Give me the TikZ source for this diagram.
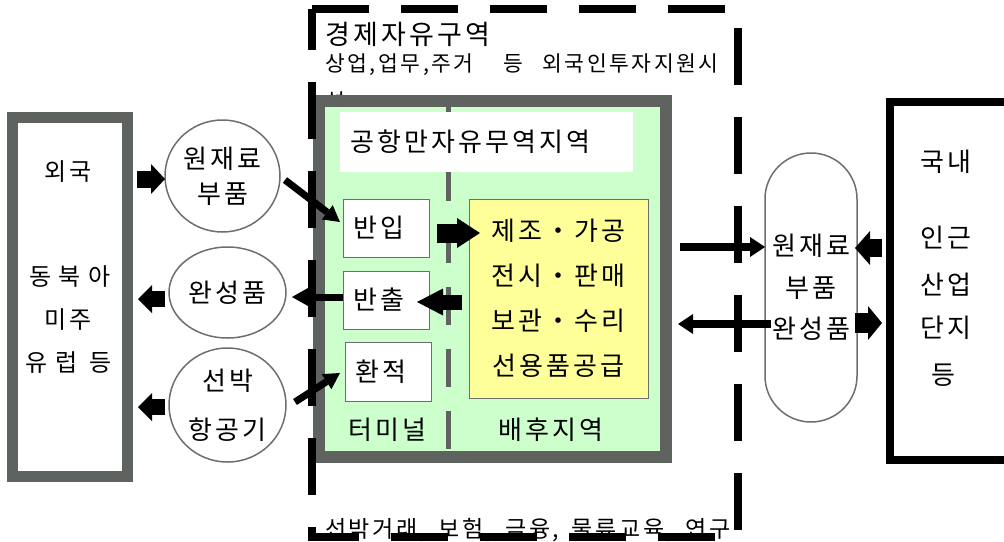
\documentclass[tikz,border=0pt]{standalone}
\usepackage{fontspec}
\setmainfont{Noto Sans CJK KR}[LetterSpace=12]
\usetikzlibrary{arrows.meta,calc,shapes.geometric}
\definecolor{frame}{RGB}{95,99,95}
\definecolor{lgreen}{RGB}{204,255,204}
\definecolor{lyellow}{RGB}{255,255,153}
\definecolor{thin}{RGB}{110,110,110}
\begin{document}
\begin{tikzpicture}[x=1pt,y=-1pt,font=\fontsize{26}{30}\selectfont,
  lbl/.style={inner sep=0pt,outer sep=0pt},
  frm/.style={draw=frame,inner sep=0pt,outer sep=0pt},
  wbox/.style={draw=thin,line width=1pt,fill=white,inner sep=0pt,inner xsep=10pt,outer sep=0pt,minimum height=58pt,text width=66pt,align=left},
  circ/.style={ellipse,draw=thin,line width=1.5pt,fill=white,inner sep=0pt,outer sep=0pt,align=center},
  blk/.style args={#1/#2/#3}{draw=black,line width=#1,-{Triangle[length=#2,width=#3,line width=0pt]}},
  arr/.style={draw=black,line width=8.5pt,-{Triangle[length=15pt,width=20pt,line width=0pt]}},
  marr/.style={draw=black,line width=7pt,-{Triangle[length=16pt,width=18pt,line width=0pt]}},
  zone/.style={draw=black,line width=8pt,dash pattern=on 57pt off 32pt},
  side/.style={lbl,font=\fontsize{24}{28}\selectfont},
  wide/.style={lbl,font=\fontsize{24}{28}\selectfont\addfontfeature{LetterSpace=30}}]
\useasboundingbox (0,0) rectangle (1004,541);
% zone texts
\node[lbl,anchor=west,font=\fontsize{27}{30}\selectfont] (title) at (325,34) {경제자유구역};
\node[lbl,anchor=west,font=\fontsize{21.5}{26}\selectfont] (sub) at (325,65) {상업,업무,주거\hspace{30pt}등\hspace{19pt}외국인투자지원시};
\node[lbl,anchor=west,font=\fontsize{21.5}{26}\selectfont] (sub2) at (325,101) {설};
\node[lbl,anchor=west,font=\fontsize{23}{26}\selectfont] (bottom) at (325,530) {선박거래,\hspace{4pt} 보험,\hspace{4pt} 금융,\hspace{4pt} 물류교육,\hspace{4pt} 연구};
% free trade zone box
\node[frm,line width=12pt,fill=lgreen,minimum width=347pt,minimum height=356pt] (ftz) at (492.5,279) {};
\draw[frame,line width=5pt,dash pattern=on 38pt off 24pt] (448,101) -- (448,451);
\node[lbl,fill=white,minimum width=293pt,minimum height=60pt,text width=273pt,inner xsep=10pt,align=left] (airport) at (486.5,142) {공항만자유무역지역};
\node[wbox] (in1) at (386,228) {반입};
\node[wbox] (out1) at (386,300) {반출};
\node[wbox,minimum height=59pt] (tr) at (388,371.5) {환적};
\node[lbl] (term) at (387,430) {터미널};
\node[lbl] (hint) at (551,430) {배후지역};
\node[draw=thin,line width=1pt,fill=lyellow,minimum width=179pt,minimum height=199pt,inner sep=0pt,outer sep=0pt,align=center,font=\fontsize{26}{45}\selectfont] (yel) at (558.5,298.5) {제조・가공\\전시・판매\\보관・수리\\선용품공급};
% left box
\node[frm,line width=11pt,minimum width=115pt,minimum height=359pt] (lbox) at (70,297) {};
\node[side] (l1) at (68,172) {외국};
\node[wide] (l2) at (70,277) {동북아};
\node[side] (l3) at (68,320) {미주};
\node[wide] (l4) at (69,363) {유럽 등};
% right box
\node[draw=black,line width=8pt,minimum width=122pt,minimum height=358pt,inner sep=0pt,outer sep=0pt] (rbox) at (951,281) {};
\node[lbl] (r1) at (946,162) {국내};
\node[lbl] (r2) at (946,238) {인근};
\node[lbl] (r3) at (946,285) {산업};
\node[lbl] (r4) at (946,328) {단지};
\node[lbl] (r5) at (943,375) {등};
% pill
\node[draw=thin,line width=1.5pt,fill=white,rounded corners=46pt,minimum width=92pt,minimum height=269pt,inner sep=0pt,outer sep=0pt,align=center,font=\fontsize{26}{41.5}\selectfont] (pill) at (811,287.5) {원재료\\부품\\완성품};
% circles
\node[circ,minimum width=115pt,minimum height=112pt,font=\fontsize{26}{35}\selectfont] (c1) at (222.5,176) {원재료\\부품};
\node[circ,minimum width=117pt,minimum height=91pt] (c2) at (227.5,292.5) {완성품};
\node[circ,minimum width=117pt,minimum height=114pt,font=\fontsize{26}{49}\selectfont] (c3) at (227.5,405) {선박\\항공기};
% block arrows
\draw[blk=17pt/14pt/30pt,shorten <=9.5pt] ($(lbox.east|-c1.west)+(0,3)$) -- ($(c1.west)+(0,3)$);
\draw[blk=16pt/14pt/28pt,shorten <=4pt,shorten >=10.5pt] ($(c2.west)+(0,6.5)$) -- ($(lbox.east|-c2.west)+(0,6.5)$);
\draw[blk=16pt/14pt/28pt,shorten <=4pt,shorten >=10.5pt] ($(c3.west)+(0,2)$) -- ($(lbox.east|-c3.west)+(0,2)$);
\draw[blk=19pt/23pt/30pt,shorten <=8pt,shorten >=-11pt] ($(in1.east)+(0,5)$) -- ($(yel.west|-in1.east)+(0,5)$);
\draw[blk=15pt/26pt/27pt,shorten <=7pt,shorten >=-12pt] ($(yel.west|-out1.east)+(0,2)$) -- ($(out1.east)+(0,2)$);
\draw[blk=18pt/15pt/34pt,shorten <=8pt,shorten >=-2pt] ($(rbox.west|-pill.east)+(0,-39.5)$) -- ($(pill.east)+(0,-39.5)$);
\draw[blk=20pt/14pt/34pt,shorten <=-2pt,shorten >=8pt] ($(pill.east)+(0,35.5)$) -- ($(rbox.west|-pill.east)+(0,35.5)$);
% line arrows
\draw[arr,shorten <=14pt] ($(ftz.east|-pill.west)+(0,-40.5)$) -- ($(pill.west)+(0,-40.5)$);
\draw[arr,shorten <=-6pt,shorten >=12pt] ($(pill.west)+(0,36.5)$) -- ($(ftz.east|-pill.west)+(0,36.5)$);
\draw[marr] ($(c1.east)+(5,4)$) -- ($(in1.west)+(-3,-6)$);
\draw[marr,shorten >=6pt] ($(out1.west)+(0,-3)$) -- ($(c2.east|-out1.west)+(0,-3)$);
\draw[marr] ($(c3.east)+(9,-3)$) -- ($(tr.west)+(-5,1.5)$);
% dashed zone frame
\draw[zone] (312,9) -- (738,9) -- (738,537);
\draw[zone,dash phase=16pt] (312,9) -- (312,537) -- (738,537);
\end{tikzpicture}
\end{document}
